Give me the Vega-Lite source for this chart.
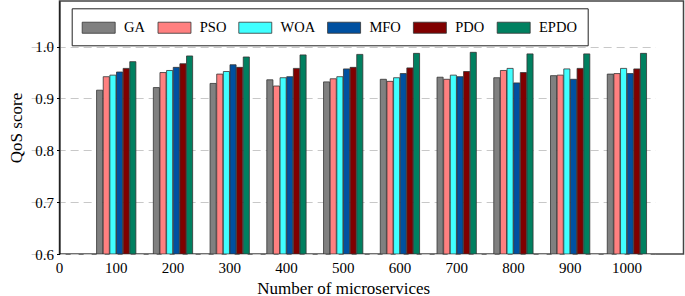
{
  "$schema": "https://vega.github.io/schema/vega-lite/v6.json",
  "width": 624,
  "height": 253,
  "autosize": {"type": "none"},
  "padding": {"left": 59.5, "top": 1, "right": 1.5, "bottom": 42},
  "background": "white",
  "config": {
    "font": "Liberation Serif",
    "view": {"stroke": "#444444", "strokeWidth": 1.5},
    "axis": {"labelFont": "Liberation Serif", "titleFont": "Liberation Serif", "labelColor": "black", "titleColor": "black", "titleFontWeight": "normal", "domainColor": "black", "tickColor": "black"}
  },
  "data": {
    "values": [
      {"n": 100, "alg": "GA", "qos": 0.916}, {"n": 100, "alg": "PSO", "qos": 0.942}, {"n": 100, "alg": "WOA", "qos": 0.945}, {"n": 100, "alg": "MFO", "qos": 0.951}, {"n": 100, "alg": "PDO", "qos": 0.958}, {"n": 100, "alg": "EPDO", "qos": 0.971},
      {"n": 200, "alg": "GA", "qos": 0.921}, {"n": 200, "alg": "PSO", "qos": 0.950}, {"n": 200, "alg": "WOA", "qos": 0.954}, {"n": 200, "alg": "MFO", "qos": 0.960}, {"n": 200, "alg": "PDO", "qos": 0.967}, {"n": 200, "alg": "EPDO", "qos": 0.982},
      {"n": 300, "alg": "GA", "qos": 0.929}, {"n": 300, "alg": "PSO", "qos": 0.947}, {"n": 300, "alg": "WOA", "qos": 0.952}, {"n": 300, "alg": "MFO", "qos": 0.965}, {"n": 300, "alg": "PDO", "qos": 0.960}, {"n": 300, "alg": "EPDO", "qos": 0.980},
      {"n": 400, "alg": "GA", "qos": 0.936}, {"n": 400, "alg": "PSO", "qos": 0.924}, {"n": 400, "alg": "WOA", "qos": 0.940}, {"n": 400, "alg": "MFO", "qos": 0.942}, {"n": 400, "alg": "PDO", "qos": 0.958}, {"n": 400, "alg": "EPDO", "qos": 0.984},
      {"n": 500, "alg": "GA", "qos": 0.932}, {"n": 500, "alg": "PSO", "qos": 0.938}, {"n": 500, "alg": "WOA", "qos": 0.942}, {"n": 500, "alg": "MFO", "qos": 0.957}, {"n": 500, "alg": "PDO", "qos": 0.960}, {"n": 500, "alg": "EPDO", "qos": 0.985},
      {"n": 600, "alg": "GA", "qos": 0.937}, {"n": 600, "alg": "PSO", "qos": 0.933}, {"n": 600, "alg": "WOA", "qos": 0.940}, {"n": 600, "alg": "MFO", "qos": 0.948}, {"n": 600, "alg": "PDO", "qos": 0.959}, {"n": 600, "alg": "EPDO", "qos": 0.987},
      {"n": 700, "alg": "GA", "qos": 0.941}, {"n": 700, "alg": "PSO", "qos": 0.937}, {"n": 700, "alg": "WOA", "qos": 0.945}, {"n": 700, "alg": "MFO", "qos": 0.942}, {"n": 700, "alg": "PDO", "qos": 0.952}, {"n": 700, "alg": "EPDO", "qos": 0.989},
      {"n": 800, "alg": "GA", "qos": 0.940}, {"n": 800, "alg": "PSO", "qos": 0.954}, {"n": 800, "alg": "WOA", "qos": 0.958}, {"n": 800, "alg": "MFO", "qos": 0.930}, {"n": 800, "alg": "PDO", "qos": 0.950}, {"n": 800, "alg": "EPDO", "qos": 0.986},
      {"n": 900, "alg": "GA", "qos": 0.944}, {"n": 900, "alg": "PSO", "qos": 0.945}, {"n": 900, "alg": "WOA", "qos": 0.957}, {"n": 900, "alg": "MFO", "qos": 0.937}, {"n": 900, "alg": "PDO", "qos": 0.958}, {"n": 900, "alg": "EPDO", "qos": 0.986},
      {"n": 1000, "alg": "GA", "qos": 0.947}, {"n": 1000, "alg": "PSO", "qos": 0.948}, {"n": 1000, "alg": "WOA", "qos": 0.958}, {"n": 1000, "alg": "MFO", "qos": 0.948}, {"n": 1000, "alg": "PDO", "qos": 0.957}, {"n": 1000, "alg": "EPDO", "qos": 0.987}
    ]
  },
  "mark": {"type": "bar", "stroke": "#333333", "strokeWidth": 0.8, "clip": true},
  "encoding": {
    "x": {
      "field": "n", "type": "ordinal",
      "scale": {"domain": [0, 100, 200, 300, 400, 500, 600, 700, 800, 900, 1000], "range": [-28.37, 595.77], "paddingInner": 0, "paddingOuter": 0},
      "axis": {"title": "Number of microservices", "labelAngle": 0, "labelFontSize": 15, "titleFontSize": 17, "ticks": false, "domain": false, "labelPadding": 6, "titlePadding": 5, "grid": false}
    },
    "xOffset": {
      "field": "alg", "type": "nominal",
      "sort": ["GA", "PSO", "WOA", "MFO", "PDO", "EPDO"],
      "scale": {"range": [8.72, 48.02], "paddingInner": 0.08, "paddingOuter": 0}
    },
    "y": {
      "field": "qos", "type": "quantitative", "stack": null,
      "scale": {"domain": [0.6, 1.088], "nice": false, "zero": false},
      "axis": {"values": [0.6, 0.7, 0.8, 0.9, 1.0], "format": ".1f", "title": "QoS score", "labelFontSize": 15, "titleFontSize": 17, "tickSize": 3, "labelPadding": 3, "titlePadding": 9, "grid": true, "gridColor": "#c8c8c8", "gridDash": [8, 5], "gridWidth": 1.2}
    },
    "color": {
      "field": "alg", "type": "nominal",
      "sort": ["GA", "PSO", "WOA", "MFO", "PDO", "EPDO"],
      "scale": {"domain": ["GA", "PSO", "WOA", "MFO", "PDO", "EPDO"], "range": ["#808080", "#ff8080", "#40ffff", "#0050a0", "#800000", "#008060"]},
      "legend": {
        "title": null, "orient": "none", "legendX": 12.2, "legendY": 7.3, "direction": "horizontal",
        "symbolSize": 289, "symbolStrokeColor": "#333333", "symbolStrokeWidth": 0.8,
        "labelFontSize": 14.5, "labelFont": "Liberation Serif", "labelColor": "black", "columnPadding": 9.8, "labelOffset": 24.3,
        "strokeColor": "#222222", "padding": 10, "fillColor": "white", "symbolOpacity": 1,
        "encode": {"symbols": {"update": {"shape": {"value": "M-1,-0.65H2.88V0.65H-1Z"}}}}
      }
    }
  }
}
